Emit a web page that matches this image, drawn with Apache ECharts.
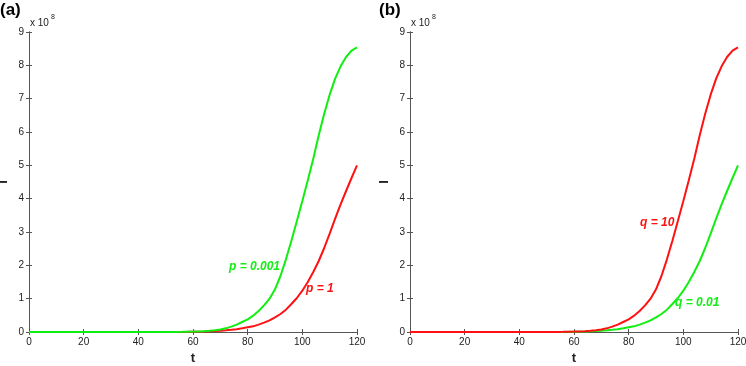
<!DOCTYPE html>
<html>
<head>
<meta charset="utf-8">
<script src="https://cdn.jsdelivr.net/npm/echarts@6/dist/echarts.min.js"></script>
<style>
  html, body { margin: 0; padding: 0; background: #fff; }
  #main { width: 746px; height: 366px; }
</style>
</head>
<body>
<div id="main"></div>
<script>
// time samples
var tVals = [0, 10, 20, 30, 40, 50, 52, 54, 56, 58, 60, 62, 64, 66, 68, 70, 72, 74, 76, 78, 80,
             82, 84, 86, 88, 90, 92, 94, 96, 98, 100, 102, 104, 106, 108, 110, 112, 114, 116, 118, 120];

// I (x 10^8), fast growing curve: p = 0.001 in (a), q = 10 in (b)
var fastI = [0, 0, 0, 0, 0.0005, 0.001, 0.002, 0.003, 0.005, 0.008, 0.012, 0.018, 0.026, 0.037, 0.053, 0.075,
             0.11, 0.16, 0.22, 0.30, 0.38, 0.49, 0.63, 0.80, 1.00, 1.28, 1.68, 2.18, 2.74, 3.33, 3.93,
             4.55, 5.20, 5.90, 6.55, 7.12, 7.60, 7.97, 8.25, 8.44, 8.54];

// I (x 10^8), slow growing curve: p = 1 in (a), q = 0.01 in (b)
var slowI = [0, 0, 0, 0, 0.0003, 0.0006, 0.001, 0.002, 0.003, 0.005, 0.008, 0.011, 0.015, 0.021, 0.030, 0.040,
             0.050, 0.065, 0.085, 0.11, 0.14, 0.17, 0.22, 0.28, 0.35, 0.44, 0.54, 0.67, 0.84, 1.02, 1.24,
             1.50, 1.80, 2.13, 2.52, 2.95, 3.40, 3.83, 4.23, 4.62, 5.00];

var xTicks = { min: 0, max: 120, interval: 20 };
var yTicks = { min: 0, max: 9, interval: 1 };

var green = '#11ee11';
var red = '#ff1111';
var axisColor = '#555';

function pairs(xs, ys) {
    return xs.map(function (x, i) { return [x, ys[i]]; });
}

function xAxes(g) {
    return [
        {
            gridIndex: g, type: 'value', min: xTicks.min, max: xTicks.max, interval: xTicks.interval,
            axisLine: { show: true, lineStyle: { color: axisColor, width: 1 } },
            axisTick: { inside: true, length: 3, lineStyle: { color: axisColor } },
            axisLabel: { fontSize: 10, color: '#222', margin: 5, fontFamily: 'Liberation Sans' },
            splitLine: { show: false },
            name: 't', nameLocation: 'middle', nameGap: 18,
            nameTextStyle: { fontWeight: 'bold', fontSize: 13, color: '#222', fontFamily: 'Liberation Sans' }
        },
        {
            gridIndex: g, type: 'value', position: 'top', min: xTicks.min, max: xTicks.max, interval: xTicks.interval,
            axisLine: { show: true, lineStyle: { color: axisColor, width: 1 } },
            axisTick: { inside: true, length: 3, lineStyle: { color: axisColor } },
            axisLabel: { show: false },
            splitLine: { show: false }
        }
    ];
}

function yAxes(g) {
    return [
        {
            gridIndex: g, type: 'value', min: yTicks.min, max: yTicks.max, interval: yTicks.interval,
            axisLine: { show: true, lineStyle: { color: axisColor, width: 1 } },
            axisTick: { inside: true, length: 3, lineStyle: { color: axisColor } },
            axisLabel: { fontSize: 10, color: '#222', margin: 5, fontFamily: 'Liberation Sans' },
            splitLine: { show: false },
            name: 'I', nameLocation: 'middle', nameGap: 19,
            nameTextStyle: { fontWeight: 'bold', fontSize: 13, color: '#222', fontFamily: 'Liberation Sans' }
        },
        {
            gridIndex: g, type: 'value', position: 'right', min: yTicks.min, max: yTicks.max, interval: yTicks.interval,
            axisLine: { show: true, lineStyle: { color: axisColor, width: 1 } },
            axisTick: { inside: true, length: 3, lineStyle: { color: axisColor } },
            axisLabel: { show: false },
            splitLine: { show: false }
        }
    ];
}

function curve(g, ys, color) {
    return {
        type: 'line', xAxisIndex: g * 2, yAxisIndex: g * 2,
        data: pairs(tVals, ys), showSymbol: false, smooth: false,
        lineStyle: { color: color, width: 2 }, z: 3
    };
}

function txt(left, top, s, size, color, weight, style) {
    return {
        type: 'text', left: left, top: top,
        style: {
            text: s, fill: color, fontSize: size, fontWeight: weight || 'normal',
            fontStyle: style || 'normal', fontFamily: 'Liberation Sans'
        }
    };
}

var chart = echarts.init(document.getElementById('main'));
var option = {
    animation: false,
    backgroundColor: '#fff',
    grid: [
        { left: 29, top: 32, width: 328, height: 300, containLabel: false, outerBoundsMode: 'none' },
        { left: 410, top: 32, width: 328, height: 300, containLabel: false, outerBoundsMode: 'none' }
    ],
    xAxis: xAxes(0).concat(xAxes(1)),
    yAxis: yAxes(0).concat(yAxes(1)),
    series: [
        curve(0, slowI, red),
        curve(0, fastI, green),
        curve(1, slowI, green),
        curve(1, fastI, red)
    ],
    graphic: [
        txt(0, 2, '(a)', 17, '#000', 'bold'),
        txt(30, 18, 'x 10', 10, '#222'),
        txt(51, 14, '8', 7, '#222'),
        txt(379, 2, '(b)', 17, '#000', 'bold'),
        txt(411, 18, 'x 10', 10, '#222'),
        txt(432, 14, '8', 7, '#222'),
        txt(229, 261, 'p = 0.001', 12, green, 'bold', 'italic'),
        txt(306, 283, 'p = 1', 12, red, 'bold', 'italic'),
        txt(640, 217, 'q = 10', 12, red, 'bold', 'italic'),
        txt(675, 297, 'q = 0.01', 12, green, 'bold', 'italic')
    ]
};
chart.setOption(option);
</script>
</body>
</html>
